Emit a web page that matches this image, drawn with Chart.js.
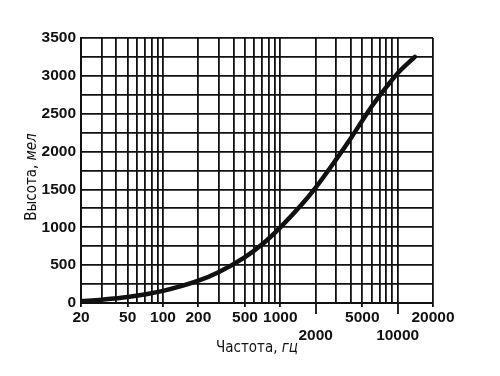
<!DOCTYPE html>
<html>
<head>
<meta charset="utf-8">
<script src="https://cdn.jsdelivr.net/npm/chart.js@4/dist/chart.umd.min.js"></script>
<style>
  html, body { margin: 0; padding: 0; background: #fff; }
  #wrap { width: 500px; height: 376px; }
</style>
</head>
<body>
<div id="wrap"><canvas id="melChart" width="500" height="376"></canvas></div>
<script>
// frequency (Hz) and pitch (mel)
const freqs = [20, 30, 50, 100, 200, 300, 500, 700, 1000, 1500, 2000, 3000, 4000, 5000, 6000, 7000, 8000, 10000, 14000];
const mels  = [25, 44, 79, 160, 294, 410, 605, 775, 1000, 1290, 1525, 1900, 2180, 2410, 2595, 2737, 2852, 3035, 3252];

// grid positions on the log axis and which of them carry a label
const xGrid = [20, 30, 40, 50, 60, 70, 80, 90, 100,
               200, 300, 400, 500, 600, 700, 800, 900, 1000,
               2000, 3000, 4000, 5000, 6000, 7000, 8000, 9000, 10000, 20000];
const xLabelsTop = [20, 50, 100, 200, 500, 1000, 5000, 20000];
const xLabelsLow = [2000, 10000];
const yLabels = [0, 500, 1000, 1500, 2000, 2500, 3000, 3500];

const FONT = "'Liberation Sans', Arial, sans-serif";
const TITLE_FONT = "'DejaVu Sans Condensed', 'Liberation Sans', sans-serif";
const INK = '#111';

// titles with mixed upright / italic parts, plus the longer ticks under 2000 and 10000
const titlesPlugin = {
    id: 'titles',
    afterDraw(chart) {
        const ctx = chart.ctx;
        const xs = chart.scales.x;
        ctx.save();
        ctx.fillStyle = INK;
        ctx.textBaseline = 'middle';
        ctx.textAlign = 'left';

        // x title
        const a = 'Частота, ', b = 'гц';
        ctx.font = '15px ' + TITLE_FONT;
        const wa = ctx.measureText(a).width;
        ctx.font = 'italic 15px ' + TITLE_FONT;
        const wb = ctx.measureText(b).width;
        let x0 = 257 - (wa + wb) / 2;
        ctx.font = '15px ' + TITLE_FONT;
        ctx.fillText(a, x0, 348);
        ctx.font = 'italic 15px ' + TITLE_FONT;
        ctx.fillText(b, x0 + wa, 348);

        // y title
        ctx.translate(32, 177);
        ctx.rotate(-Math.PI / 2);
        const c = 'Высота, ', d = 'мел';
        ctx.font = '15px ' + TITLE_FONT;
        const wc = ctx.measureText(c).width;
        ctx.font = 'italic 15px ' + TITLE_FONT;
        const wd = ctx.measureText(d).width;
        x0 = -(wc + wd) / 2;
        ctx.font = '15px ' + TITLE_FONT;
        ctx.fillText(c, x0, 0);
        ctx.font = 'italic 15px ' + TITLE_FONT;
        ctx.fillText(d, x0 + wc, 0);
        ctx.restore();

        // long ticks for the staggered labels
        ctx.save();
        ctx.strokeStyle = INK;
        ctx.lineWidth = 1.8;
        xLabelsLow.forEach(v => {
            const px = Math.round(xs.getPixelForValue(v));
            ctx.beginPath();
            ctx.moveTo(px, chart.chartArea.bottom);
            ctx.lineTo(px, chart.chartArea.bottom + 11);
            ctx.stroke();
        });
        ctx.restore();
    }
};

new Chart(document.getElementById('melChart').getContext('2d'), {
    type: 'line',
    data: {
        datasets: [{
            data: freqs.map((f, i) => ({ x: f, y: mels[i] })),
            borderColor: INK,
            borderWidth: 4.5,
            pointRadius: 0,
            fill: false,
            cubicInterpolationMode: 'monotone',
            borderCapStyle: 'round'
        }]
    },
    options: {
        responsive: false,
        animation: false,
        devicePixelRatio: 1,
        layout: { padding: { left: 0, right: 67, top: 38, bottom: 0 } },
        plugins: { legend: { display: false }, tooltip: { enabled: false } },
        scales: {
            x: {
                type: 'logarithmic',
                min: 20,
                max: 20000,
                afterBuildTicks: scale => { scale.ticks = xGrid.map(v => ({ value: v })); },
                afterFit: scale => { scale.height = 73; },
                border: { color: INK, width: 2 },
                grid: {
                    color: INK,
                    lineWidth: 1.8,
                    drawTicks: true,
                    tickLength: 4,
                    tickColor: ctx => (xLabelsTop.includes(ctx.tick.value) ? INK : 'rgba(0,0,0,0)')
                },
                ticks: {
                    autoSkip: false,
                    maxRotation: 0,
                    padding: 2,
                    color: INK,
                    font: { family: FONT, size: 15.5, weight: 'bold', lineHeight: 1.15 },
                    callback: v => {
                        if (xLabelsTop.includes(v)) return String(v);
                        if (xLabelsLow.includes(v)) return ['', String(v)];
                        return '';
                    }
                }
            },
            y: {
                min: 0,
                max: 3500,
                afterFit: scale => { scale.width = 81; },
                border: { color: INK, width: 2 },
                grid: { color: INK, lineWidth: 1.8, drawTicks: false },
                ticks: {
                    stepSize: 250,
                    autoSkip: false,
                    padding: 5,
                    color: INK,
                    font: { family: FONT, size: 15.5, weight: 'bold' },
                    callback: v => (yLabels.includes(v) ? String(v) : '')
                }
            }
        }
    },
    plugins: [titlesPlugin]
});
</script>
</body>
</html>
